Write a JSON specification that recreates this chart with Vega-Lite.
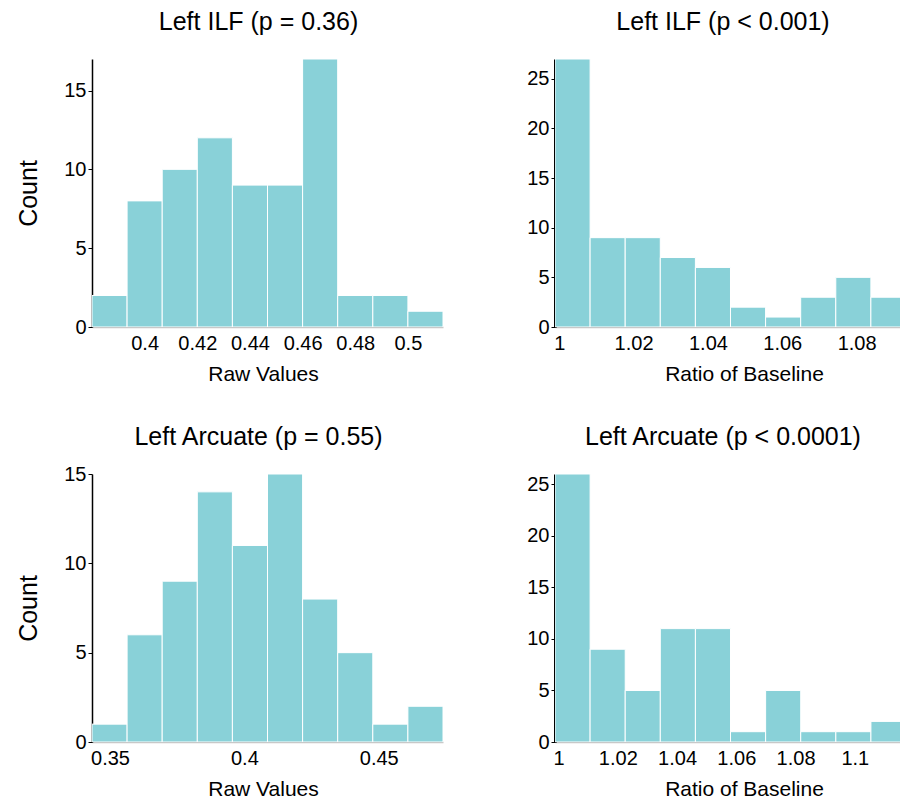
{
  "$schema": "https://vega.github.io/schema/vega-lite/v6.json",
  "padding": {"left": 16, "top": 10, "right": 0, "bottom": 0},
  "background": "white",
  "config": {
    "font": "Liberation Sans",
    "view": {"stroke": null},
    "axis": {"grid": false, "labelFontSize": 20, "labelColor": "black", "titleFontSize": 21, "titleFontWeight": "normal", "titleColor": "black", "labelOverlap": false},
    "axisX": {"ticks": false, "domainColor": "#c8c8c8", "domainWidth": 1.5, "labelPadding": 6, "titlePadding": 10, "labelFlush": false},
    "axisY": {"domainColor": "black", "tickColor": "black", "tickSize": 4, "labelPadding": 2, "titleFontSize": 25, "titlePadding": 22},
    "title": {"fontSize": 25, "fontWeight": "normal", "color": "black", "offset": 24, "baseline": "alphabetic", "frame": "group", "anchor": "middle"},
    "bar": {"fill": "#89d1d8", "stroke": "white", "strokeWidth": 1}
  },
  "datasets": {
    "ilfRaw": [
      {"bin_start": 0.38, "bin_end": 0.39333, "count": 2},
      {"bin_start": 0.39333, "bin_end": 0.40667, "count": 8},
      {"bin_start": 0.40667, "bin_end": 0.42, "count": 10},
      {"bin_start": 0.42, "bin_end": 0.43333, "count": 12},
      {"bin_start": 0.43333, "bin_end": 0.44667, "count": 9},
      {"bin_start": 0.44667, "bin_end": 0.46, "count": 9},
      {"bin_start": 0.46, "bin_end": 0.47333, "count": 17},
      {"bin_start": 0.47333, "bin_end": 0.48667, "count": 2},
      {"bin_start": 0.48667, "bin_end": 0.5, "count": 2},
      {"bin_start": 0.5, "bin_end": 0.51333, "count": 1}
    ],
    "ilfRatio": [
      {"bin_start": 0.99887, "bin_end": 1.00831, "count": 27},
      {"bin_start": 1.00831, "bin_end": 1.01775, "count": 9},
      {"bin_start": 1.01775, "bin_end": 1.02719, "count": 9},
      {"bin_start": 1.02719, "bin_end": 1.03663, "count": 7},
      {"bin_start": 1.03663, "bin_end": 1.04607, "count": 6},
      {"bin_start": 1.04607, "bin_end": 1.05551, "count": 2},
      {"bin_start": 1.05551, "bin_end": 1.06495, "count": 1},
      {"bin_start": 1.06495, "bin_end": 1.07439, "count": 3},
      {"bin_start": 1.07439, "bin_end": 1.08383, "count": 5},
      {"bin_start": 1.08383, "bin_end": 1.09327, "count": 3}
    ],
    "arcRaw": [
      {"bin_start": 0.3433, "bin_end": 0.35636, "count": 1},
      {"bin_start": 0.35636, "bin_end": 0.36942, "count": 6},
      {"bin_start": 0.36942, "bin_end": 0.38248, "count": 9},
      {"bin_start": 0.38248, "bin_end": 0.39554, "count": 14},
      {"bin_start": 0.39554, "bin_end": 0.4086, "count": 11},
      {"bin_start": 0.4086, "bin_end": 0.42166, "count": 15},
      {"bin_start": 0.42166, "bin_end": 0.43472, "count": 8},
      {"bin_start": 0.43472, "bin_end": 0.44778, "count": 5},
      {"bin_start": 0.44778, "bin_end": 0.46084, "count": 1},
      {"bin_start": 0.46084, "bin_end": 0.4739, "count": 2}
    ],
    "arcRatio": [
      {"bin_start": 0.9988, "bin_end": 1.01065, "count": 26},
      {"bin_start": 1.01065, "bin_end": 1.0225, "count": 9},
      {"bin_start": 1.0225, "bin_end": 1.03435, "count": 5},
      {"bin_start": 1.03435, "bin_end": 1.0462, "count": 11},
      {"bin_start": 1.0462, "bin_end": 1.05805, "count": 11},
      {"bin_start": 1.05805, "bin_end": 1.0699, "count": 1},
      {"bin_start": 1.0699, "bin_end": 1.08175, "count": 5},
      {"bin_start": 1.08175, "bin_end": 1.0936, "count": 1},
      {"bin_start": 1.0936, "bin_end": 1.10545, "count": 1},
      {"bin_start": 1.10545, "bin_end": 1.1173, "count": 2}
    ]
  },
  "columns": 2,
  "spacing": {"row": 147, "column": 112},
  "bounds": "flush",
  "concat": [
    {
      "title": {"text": "Left ILF (p = 0.36)", "dx": -9},
      "width": 351, "height": 268,
      "data": {"name": "ilfRaw"},
      "mark": {"type": "bar", "clip": true},
      "encoding": {
        "x": {"field": "bin_start", "type": "quantitative", "scale": {"domain": [0.38, 0.51333], "nice": false, "zero": false}, "axis": {"title": "Raw Values", "titleX": 171, "values": [0.4, 0.42, 0.44, 0.46, 0.48, 0.5], "format": "~g"}},
        "x2": {"field": "bin_end"},
        "y": {"field": "count", "type": "quantitative", "scale": {"domain": [0, 17], "nice": false}, "axis": {"title": "Count", "values": [0, 5, 10, 15], "domainWidth": 1.5}},
        "y2": {"datum": 0}
      }
    },
    {
      "title": {"text": "Left ILF (p < 0.001)", "dx": -5},
      "width": 346, "height": 268,
      "data": {"name": "ilfRatio"},
      "mark": {"type": "bar", "clip": true},
      "encoding": {
        "x": {"field": "bin_start", "type": "quantitative", "scale": {"domain": [0.99887, 1.09193], "nice": false, "zero": false}, "axis": {"title": "Ratio of Baseline", "titleX": 189, "values": [1, 1.02, 1.04, 1.06, 1.08], "format": "~g"}},
        "x2": {"field": "bin_end"},
        "y": {"field": "count", "type": "quantitative", "scale": {"domain": [0, 27], "nice": false}, "axis": {"title": null, "values": [0, 5, 10, 15, 20, 25], "domainWidth": 3}},
        "y2": {"datum": 0}
      }
    },
    {
      "title": {"text": "Left Arcuate (p = 0.55)", "dx": -9, "offset": 14},
      "width": 351, "height": 268,
      "data": {"name": "arcRaw"},
      "mark": {"type": "bar", "clip": true},
      "encoding": {
        "x": {"field": "bin_start", "type": "quantitative", "scale": {"domain": [0.3433, 0.4739], "nice": false, "zero": false}, "axis": {"title": "Raw Values", "titleX": 171, "values": [0.35, 0.4, 0.45], "format": "~g"}},
        "x2": {"field": "bin_end"},
        "y": {"field": "count", "type": "quantitative", "scale": {"domain": [0, 15], "nice": false}, "axis": {"title": "Count", "values": [0, 5, 10, 15], "domainWidth": 1.5}},
        "y2": {"datum": 0}
      }
    },
    {
      "title": {"text": "Left Arcuate (p < 0.0001)", "dx": -5},
      "width": 346, "height": 268,
      "data": {"name": "arcRatio"},
      "mark": {"type": "bar", "clip": true},
      "encoding": {
        "x": {"field": "bin_start", "type": "quantitative", "scale": {"domain": [0.9988, 1.1156], "nice": false, "zero": false}, "axis": {"title": "Ratio of Baseline", "titleX": 189, "values": [1, 1.02, 1.04, 1.06, 1.08, 1.1], "format": "~g"}},
        "x2": {"field": "bin_end"},
        "y": {"field": "count", "type": "quantitative", "scale": {"domain": [0, 26], "nice": false}, "axis": {"title": null, "values": [0, 5, 10, 15, 20, 25], "domainWidth": 3}},
        "y2": {"datum": 0}
      }
    }
  ]
}
